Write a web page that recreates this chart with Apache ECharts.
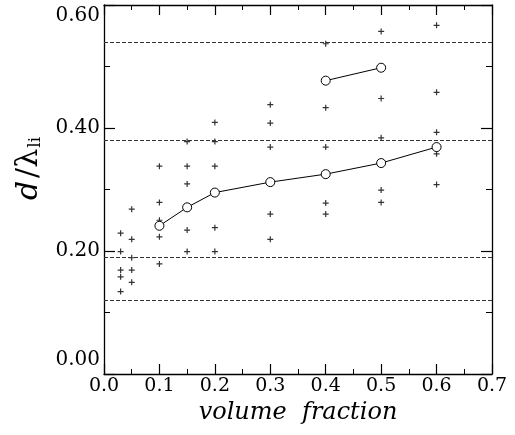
<!DOCTYPE html>
<html>
<head>
<meta charset="utf-8">
<script src="https://cdn.jsdelivr.net/npm/echarts@6/dist/echarts.min.js"></script>
<style>
  html, body { margin: 0; padding: 0; background: #fff; }
  #chart { width: 515px; height: 435px; }
</style>
</head>
<body>
<div id="chart"></div>
<script>
// Volume fractions at which individual measurements were taken
const fractions = [0.03, 0.05, 0.1, 0.15, 0.2, 0.3, 0.4, 0.5, 0.6];
// Individual d/λ values for each volume fraction (same order as fractions)
const samples = [
  [0.229, 0.199, 0.169, 0.158, 0.134],
  [0.268, 0.219, 0.189, 0.169, 0.149],
  [0.338, 0.279, 0.250, 0.223, 0.179],
  [0.378, 0.338, 0.309, 0.234, 0.199],
  [0.409, 0.378, 0.338, 0.238, 0.199],
  [0.438, 0.408, 0.369, 0.260, 0.219],
  [0.537, 0.433, 0.369, 0.278, 0.260],
  [0.557, 0.448, 0.384, 0.299, 0.279],
  [0.567, 0.458, 0.393, 0.358, 0.308]
];
// Averaged branch (lower) and secondary branch (upper)
const lowerFractions = [0.1, 0.15, 0.2, 0.3, 0.4, 0.5, 0.6];
const lowerMeans = [0.241, 0.271, 0.295, 0.312, 0.325, 0.343, 0.369];
const upperFractions = [0.4, 0.5];
const upperMeans = [0.477, 0.498];
// Reference levels drawn as dashed horizontal lines
const guideLevels = [0.540, 0.381, 0.187, 0.116];
// Axis tick labels
const xTickLabels = ['0.0', '0.1', '0.2', '0.3', '0.4', '0.5', '0.6', '0.7'];
const yTickLabels = ['0.00', '0.20', '0.40', '0.60'];

const scatterData = [];
fractions.forEach((f, i) => samples[i].forEach(v => scatterData.push([f, v])));

const plusPath = 'path://M0,2.4H6V3.6H0Z M2.4,0H3.6V6H2.4Z';
const serif = 'DejaVu Serif';

const chart = echarts.init(document.getElementById('chart'), null, { renderer: 'canvas' });

const frameAxis = {
  axisLine: { show: true, onZero: false, lineStyle: { color: '#000', width: 1.3 } },
  splitLine: { show: false },
  minorSplitLine: { show: false }
};

chart.setOption({
  backgroundColor: '#fff',
  animation: false,
  grid: { left: 104, right: 23, top: 5, bottom: 61 },
  xAxis: [
    Object.assign({}, frameAxis, {
      type: 'value', position: 'bottom', min: 0, max: 0.7, interval: 0.1,
      axisTick: { show: true, inside: true, length: 10, lineStyle: { color: '#000', width: 1.2 } },
      minorTick: { show: true, splitNumber: 2, length: 5, lineStyle: { color: '#000', width: 1 } },
      axisLabel: {
        margin: 3, color: '#000', fontFamily: serif, fontSize: 19,
        formatter: v => xTickLabels[Math.round(v * 10)]
      },
      name: 'volume  fraction', nameLocation: 'middle', nameGap: 16,
      nameTextStyle: { fontFamily: serif, fontStyle: 'italic', fontSize: 24, color: '#000' }
    }),
    Object.assign({}, frameAxis, {
      type: 'value', position: 'top', min: 0, max: 0.7, interval: 0.1,
      axisTick: { show: true, inside: true, length: 10, lineStyle: { color: '#000', width: 1.2 } },
      minorTick: { show: true, splitNumber: 2, length: 5, lineStyle: { color: '#000', width: 1 } },
      axisLabel: { show: false }
    })
  ],
  yAxis: [
    Object.assign({}, frameAxis, {
      type: 'value', position: 'left', min: 0, max: 0.6, interval: 0.2,
      axisTick: { show: true, inside: true, length: 11, lineStyle: { color: '#000', width: 1.2 } },
      minorTick: { show: true, splitNumber: 2, length: 6, lineStyle: { color: '#000', width: 1 } },
      axisLabel: {
        margin: 4, color: '#000', fontFamily: serif, fontSize: 20,
        formatter: v => {
          const t = yTickLabels[Math.round(v * 5)];
          if (v === 0) return '{lo|' + t + '}';
          if (Math.abs(v - 0.6) < 1e-9) return '{hi|' + t + '}';
          return t;
        },
        rich: {
          lo: { fontFamily: serif, fontSize: 20, color: '#000', padding: [0, 0, 28, 0] },
          hi: { fontFamily: serif, fontSize: 20, color: '#000', padding: [22, 0, 0, 0] }
        }
      },
      name: '{d|d}{n|/λ}{s|li}', nameLocation: 'middle', nameRotate: 90, nameGap: 56,
      nameTextStyle: {
        color: '#000', padding: [0, 0, 0, 42],
        rich: {
          d: { fontFamily: serif, fontStyle: 'italic', fontSize: 30, color: '#000' },
          n: { fontFamily: serif, fontSize: 30, color: '#000', padding: [0, 0, 0, 3] },
          s: { fontFamily: serif, fontSize: 17, color: '#000', verticalAlign: 'bottom', padding: [10, 0, 0, 1] }
        }
      }
    }),
    Object.assign({}, frameAxis, {
      type: 'value', position: 'right', min: 0, max: 0.6, interval: 0.2,
      axisTick: { show: true, inside: true, length: 11, lineStyle: { color: '#000', width: 1.2 } },
      minorTick: { show: true, splitNumber: 2, length: 6, lineStyle: { color: '#000', width: 1 } },
      axisLabel: { show: false }
    })
  ],
  series: [
    {
      type: 'line', data: [], silent: true,
      markLine: {
        silent: true, symbol: ['none', 'none'], label: { show: false },
        lineStyle: { color: '#333', type: [4, 2], width: 1 },
        data: guideLevels.map(v => ({ yAxis: v }))
      }
    },
    {
      type: 'scatter', symbol: plusPath, symbolSize: 6,
      itemStyle: { color: '#000' },
      data: scatterData
    },
    {
      type: 'line', symbol: 'circle', symbolSize: 9, showSymbol: true,
      lineStyle: { color: '#000', width: 1 },
      itemStyle: { color: '#fff', borderColor: '#000', borderWidth: 1 },
      data: lowerFractions.map((f, i) => [f, lowerMeans[i]])
    },
    {
      type: 'line', symbol: 'circle', symbolSize: 9, showSymbol: true,
      lineStyle: { color: '#000', width: 1 },
      itemStyle: { color: '#fff', borderColor: '#000', borderWidth: 1 },
      data: upperFractions.map((f, i) => [f, upperMeans[i]])
    }
  ]
});
</script>
</body>
</html>
